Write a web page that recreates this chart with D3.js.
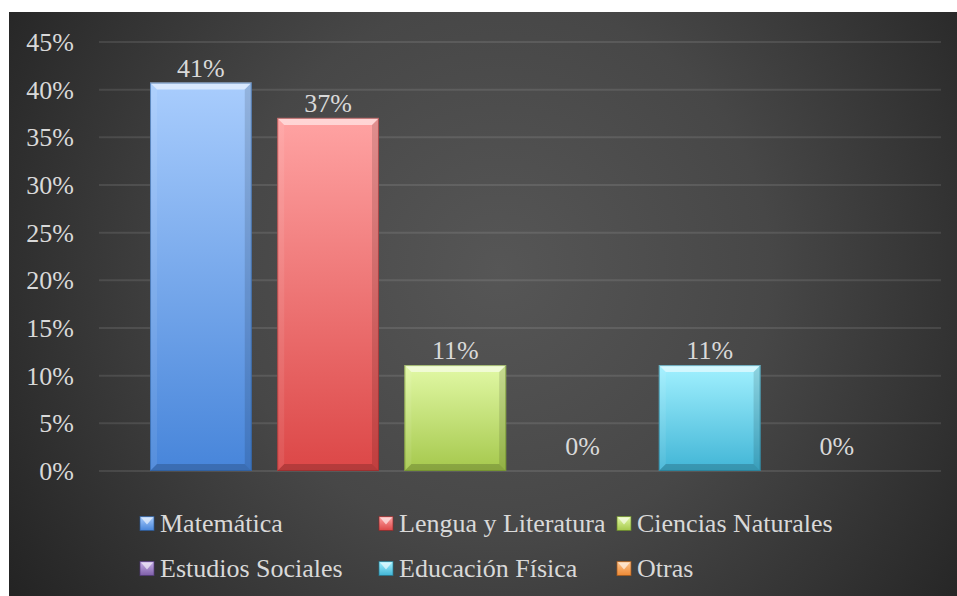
<!DOCTYPE html>
<html>
<head>
<meta charset="utf-8">
<script src="https://cdn.jsdelivr.net/npm/d3@7/dist/d3.min.js"></script>
<style>
  html, body { margin: 0; padding: 0; background: #ffffff; }
  svg { display: block; }
</style>
</head>
<body>
<svg id="chart" width="957" height="596"></svg>
<script>
// ---- data ----
const categories = ["Matemática", "Lengua y Literatura", "Ciencias Naturales", "Estudios Sociales", "Educación Física", "Otras"];
const values = [0.4074, 0.3704, 0.1111, 0, 0.1111, 0];
const tickValues = [0, 0.05, 0.10, 0.15, 0.20, 0.25, 0.30, 0.35, 0.40, 0.45];
const tickLabels = ["0%", "5%", "10%", "15%", "20%", "25%", "30%", "35%", "40%", "45%"];
const valueLabels = ["41%", "37%", "11%", "0%", "11%", "0%"];

// ---- styles ----
const FONT = "'Liberation Serif', 'Tinos', 'DejaVu Serif', 'Times New Roman', serif";
const FS = "26px";
const barTop    = ["#a9cdfd", "#ffa3a3", "#e2f9a6", "#c6aee6", "#a2f1ff", "#fcc48e"];
const barBottom = ["#4785da", "#dc4747", "#a5c84c", "#7e5fa8", "#41b5d6", "#ee8a35"];
const barEdge   = ["#2c5a96", "#8e2a2a", "#6a8a2a", "#52397a", "#24788f", "#a85a1a"];
const textColor = "#d9d9d9";

const svg = d3.select("#chart");
const defs = svg.append("defs");

// background
const bg = defs.append("radialGradient").attr("id", "bg")
  .attr("gradientUnits", "userSpaceOnUse")
  .attr("cx", 500).attr("cy", 270).attr("r", 600);
bg.append("stop").attr("offset", "0").attr("stop-color", "#565656");
bg.append("stop").attr("offset", "0.45").attr("stop-color", "#474747");
bg.append("stop").attr("offset", "1").attr("stop-color", "#222222");
svg.append("rect").attr("x", 9).attr("y", 12).attr("width", 948).attr("height", 584).attr("fill", "url(#bg)");

categories.forEach((c, i) => {
  const g = defs.append("linearGradient").attr("id", "bar" + i)
    .attr("x1", 0).attr("y1", 0).attr("x2", 0).attr("y2", 1);
  g.append("stop").attr("offset", "0").attr("stop-color", barTop[i]);
  g.append("stop").attr("offset", "1").attr("stop-color", barBottom[i]);
});

// scales
const gridX0 = 99, gridX1 = 941;
const y = d3.scaleLinear().domain([0, 0.45]).range([471, 42]);
const x = d3.scaleBand().domain(categories).range([137.3, 900.5]).paddingInner(0.2).paddingOuter(0.1);

// gridlines
svg.append("g").selectAll("line").data(tickValues).join("line")
  .attr("x1", gridX0).attr("x2", gridX1)
  .attr("y1", d => y(d)).attr("y2", d => y(d))
  .attr("stroke", "#ffffff").attr("stroke-opacity", 0.1).attr("stroke-width", 2);

// y axis labels
const yAxis = d3.axisLeft(y).tickValues(tickValues).tickFormat((d, i) => tickLabels[i]).tickSize(0).tickPadding(0);
const ya = svg.append("g").attr("transform", "translate(74,0)").call(yAxis);
ya.attr("font-family", null).attr("font-size", null);
ya.select(".domain").remove();
ya.selectAll("text").attr("fill", textColor).style("font-size", FS)
  .style("font-family", FONT).attr("dy", "0.33em");

// bars with bevel
const barsG = svg.append("g");
categories.forEach((c, i) => {
  const v = values[i];
  if (v <= 0) return;
  const bx = x(c), bw = x.bandwidth(), by = y(v), bh = y(0) - y(v);
  const b = Math.min(7, bh / 2);
  const g = barsG.append("g");
  g.append("rect").attr("x", bx).attr("y", by).attr("width", bw).attr("height", bh)
    .attr("fill", `url(#bar${i})`);
  g.append("polygon").attr("points", [[bx, by], [bx + bw, by], [bx + bw - b, by + b], [bx + b, by + b]].join(" "))
    .attr("fill", "#ffffff").attr("fill-opacity", 0.55);
  g.append("polygon").attr("points", [[bx, by], [bx + b, by + b], [bx + b, by + bh - b], [bx, by + bh]].join(" "))
    .attr("fill", "#ffffff").attr("fill-opacity", 0.08);
  g.append("polygon").attr("points", [[bx + bw, by], [bx + bw - b, by + b], [bx + bw - b, by + bh - b], [bx + bw, by + bh]].join(" "))
    .attr("fill", "#000000").attr("fill-opacity", 0.12);
  g.append("polygon").attr("points", [[bx, by + bh], [bx + b, by + bh - b], [bx + bw - b, by + bh - b], [bx + bw, by + bh]].join(" "))
    .attr("fill", "#000000").attr("fill-opacity", 0.18);
  g.append("rect").attr("x", bx + 0.5).attr("y", by + 0.5).attr("width", bw - 1).attr("height", bh - 1)
    .attr("fill", "none").attr("stroke", barEdge[i]).attr("stroke-opacity", 0.6).attr("stroke-width", 1);
});

// value labels
svg.append("g").selectAll("text").data(categories).join("text")
  .attr("x", d => x(d) + x.bandwidth() / 2)
  .attr("y", (d, i) => values[i] > 0 ? y(values[i]) - 6 : y(0) - 16)
  .attr("text-anchor", "middle")
  .attr("fill", textColor).style("font-size", FS).style("font-family", FONT)
  .text((d, i) => valueLabels[i]);

// legend
const legCols = [140, 379, 617];
const legRows = [531.5, 576.5];
categories.forEach((c, i) => {
  const lx = legCols[i % 3], ly = legRows[Math.floor(i / 3)];
  const s = 14, sy = ly - 15;
  const g = svg.append("g");
  g.append("rect").attr("x", lx).attr("y", sy).attr("width", s).attr("height", s)
    .attr("fill", `url(#bar${i})`).attr("stroke", barEdge[i]).attr("stroke-opacity", 0.7).attr("stroke-width", 1);
  g.append("polygon").attr("points", [[lx + 1, sy + 1], [lx + s - 1, sy + 1], [lx + s / 2, sy + s / 2 + 1]].join(" "))
    .attr("fill", "#ffffff").attr("fill-opacity", 0.6);
  g.append("text").attr("x", lx + 20).attr("y", ly)
    .attr("fill", textColor).style("font-size", FS).style("font-family", FONT).text(c);
});
</script>
</body>
</html>
